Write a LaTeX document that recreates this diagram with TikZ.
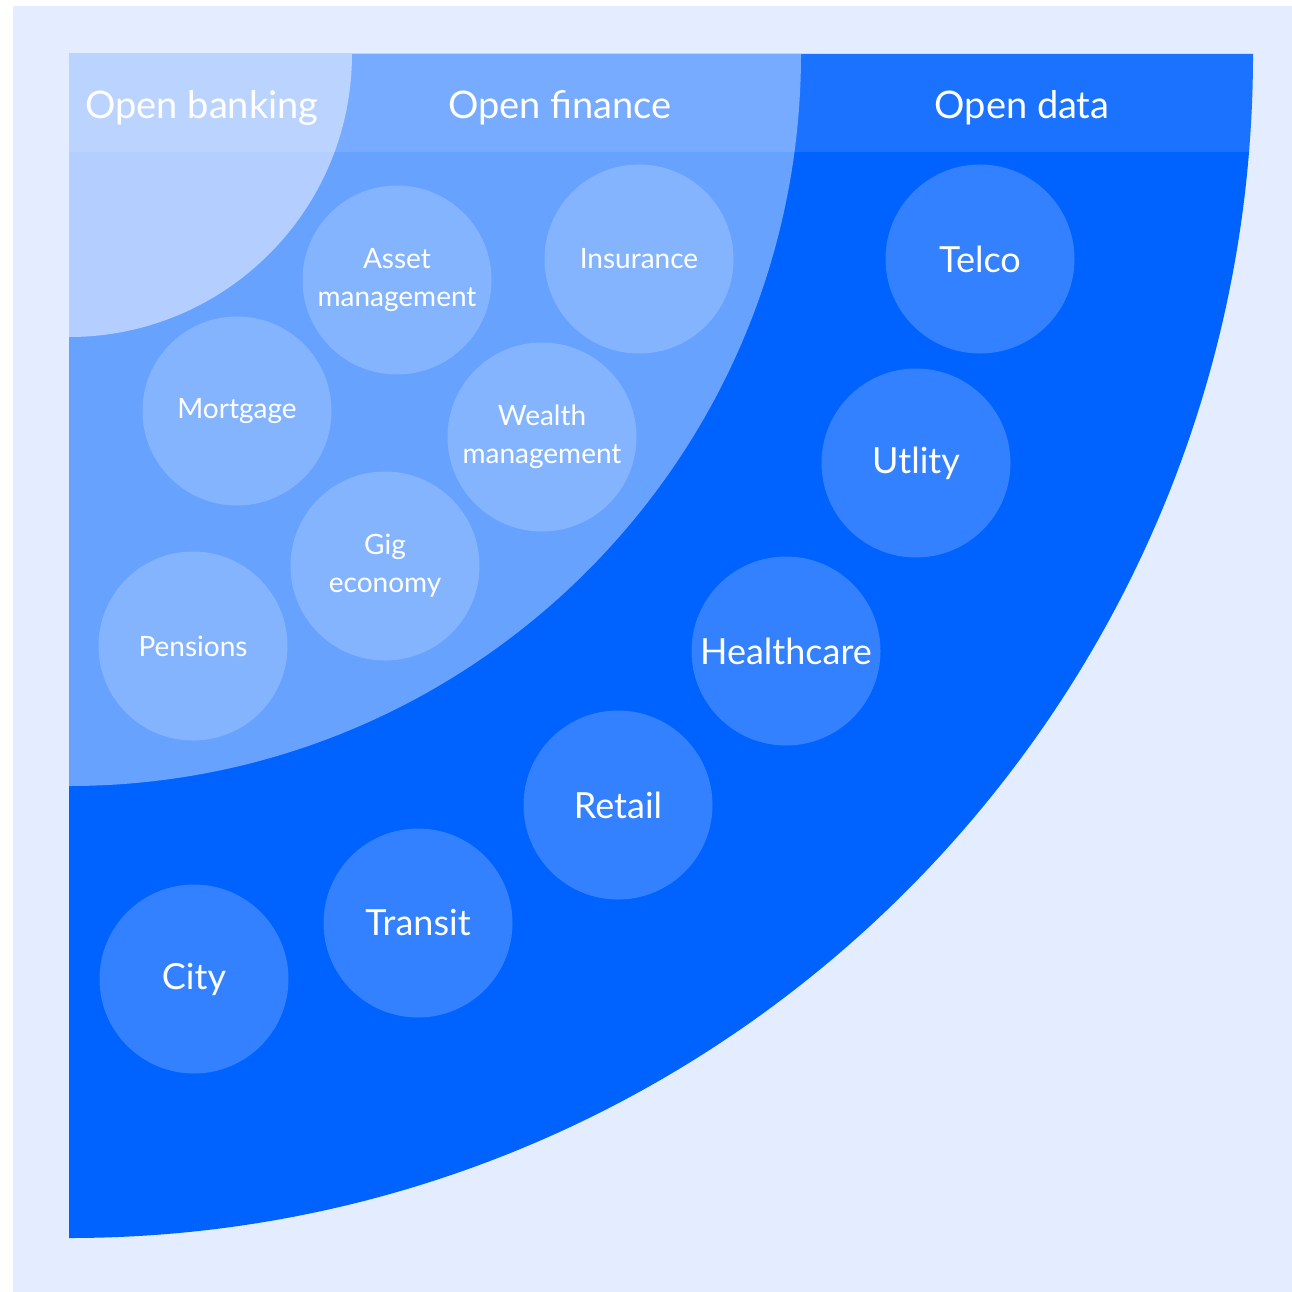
\documentclass[tikz,border=0pt]{standalone}
\usepackage{fontspec}
\setmainfont{Lato}
\usepackage{tikz}
\definecolor{page}{HTML}{E4EDFF}
\definecolor{data}{HTML}{0062FF}
\definecolor{finance}{HTML}{67A2FF}
\definecolor{banking}{HTML}{B4CFFF}
\tikzset{
  band/.style={fill=white, fill opacity=0.1},
  bubble/.style={circle, fill=white, fill opacity=0.2, text opacity=1, text=white, minimum size=189pt, inner sep=0pt, align=center},
  small/.style={bubble, font=\fontsize{28}{38}\selectfont},
  big/.style={bubble, font=\fontsize{36}{40}\selectfont},
  head/.style={text=white, anchor=base, inner sep=0pt, font=\fontsize{38}{40}\selectfont},
}

\begin{document}
\begin{tikzpicture}[x=1pt,y=-1pt]
  \useasboundingbox (0,0) rectangle (1292,1292);
  \fill[page] (13,6) rectangle (1292,1292);
  \coordinate (O) at (69,54);
  \def\Rd{1184}
  \def\Rf{732}
  \def\Rb{283}
  \fill[data] (O) -- ++(\Rd,0) arc[start angle=0,end angle=90,radius=\Rd] -- cycle;
  \fill[finance] (O) -- ++(\Rf,0) arc[start angle=0,end angle=90,radius=\Rf] -- cycle;
  \fill[banking] (O) -- ++(\Rb,0) arc[start angle=0,end angle=90,radius=\Rb] -- cycle;
  \begin{scope}
    \clip (O) -- ++(\Rd,0) arc[start angle=0,end angle=90,radius=\Rd] -- cycle;
    \fill[band] (O) rectangle (1292,152);
  \end{scope}
  \foreach \N/\X/\T in {banking/202/Open banking,finance/560/Open finance,data/1022/Open data}
    \node[head] (h\N) at (\X,119) {\T};
  \foreach \N/\X/\Y/\T in {asset/397/280/{Asset\\management},insurance/639/259/Insurance,
      mortgage/237/411/Mortgage,wealth/542/437/{Wealth\\management},
      gig/385/566/{Gig\\economy},pensions/193/646/Pensions}
    \node[small] (\N) at (\X,\Y) {\T};
  \foreach \N/\X/\Y/\T in {telco/980/259/Telco,utility/916/463/Utlity,healthcare/786/651/Healthcare,
      retail/618/805/Retail,transit/418/923/Transit,city/194/979/City}
    \node[big] (\N) at (\X,\Y) {\T};
\end{tikzpicture}
\end{document}
